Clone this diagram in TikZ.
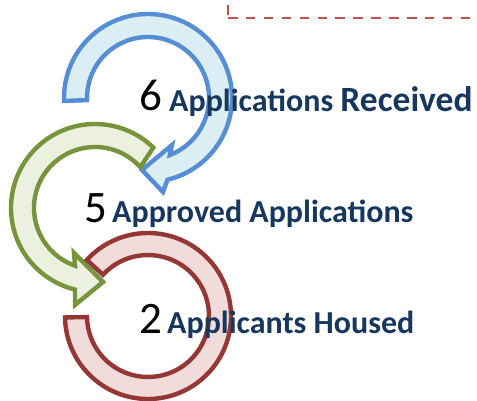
\documentclass[tikz,border=0pt]{standalone}
\usepackage{fontspec}
\setmainfont{Carlito}
\usetikzlibrary{calc}
\definecolor{bluestroke}{HTML}{558ED5}
\definecolor{bluefill}{HTML}{DBEEF4}
\definecolor{greenstroke}{HTML}{77933C}
\definecolor{greenfill}{HTML}{EBF1DE}
\definecolor{redstroke}{HTML}{953735}
\definecolor{redfill}{HTML}{F2DCDB}
\definecolor{navy}{HTML}{17375E}
\definecolor{dashred}{HTML}{C0504D}
\tikzset{
  band/.style={line width=4.4pt, line join=miter},
  numlbl/.style={inner sep=0pt, anchor=base east, font=\fontsize{45}{50}\selectfont, text=black},
  textlbl/.style={inner sep=0pt, anchor=base west, font=\fontsize{32}{38}\selectfont\bfseries, text=navy},
}
\begin{document}
\begin{tikzpicture}[x=1pt,y=1pt]
\useasboundingbox[fill=white] (0,0) rectangle (477,400);
% dashed line
\draw[dashred, line width=2.3pt] (228,395) -- (228,385);
\draw[dashred, line width=2.3pt, dash pattern=on 9.5pt off 8.4pt] (228,382) -- (477,382);
% blue arrow
\coordinate (B) at (148,302);
\draw[band, draw=bluestroke, fill=bluefill]
  ($(B)+(182:84)$) arc[start angle=182, end angle=-76.6, radius=84]
  -- (163,208) -- (142,230) -- (172,255)
  -- ($(B)+(-69:61)$) arc[start angle=-69, end angle=182, radius=61] -- cycle;
% green arrow
\coordinate (G) at (95,192);
\draw[band, draw=greenstroke, fill=greenfill]
  ($(G)+(46:84)$) arc[start angle=46, end angle=256.2, radius=84]
  -- (75,95) -- (103,118) -- (74,147)
  -- ($(G)+(250.9:61)$) arc[start angle=250.9, end angle=42, radius=61] -- cycle;
% red ring
\coordinate (R) at (148,84);
\draw[band, draw=redstroke, fill=redfill]
  ($(R)+(181:83)$) arc[start angle=181, end angle=497.5, radius=83]
  -- ($(R)+(497.5:61)$) arc[start angle=497.5, end angle=181, radius=61] -- cycle;
% labels
\node[numlbl] (n6) at (163,290) {6};
\node[textlbl] (t6) at (169,289) {Applications {\fontsize{35.5}{40}\selectfont Received}};
\node[numlbl] (n5) at (108,178) {5};
\node[textlbl] (t5) at (112,178) {Approved Applications};
\node[numlbl] (n2) at (163,67) {2};
\node[textlbl] (t2) at (167,67) {Applicants Housed};
\end{tikzpicture}
\end{document}
